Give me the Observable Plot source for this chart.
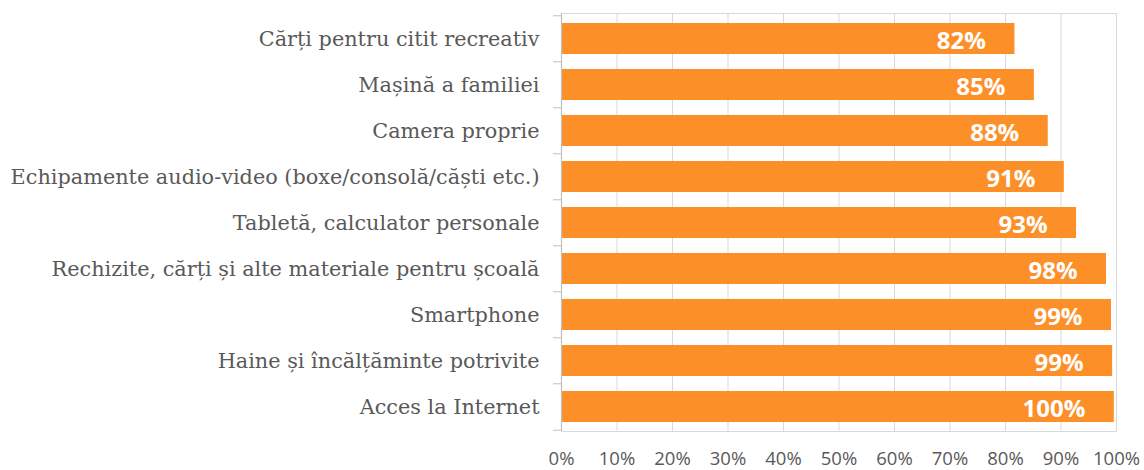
<!DOCTYPE html>
<html>
<head>
<meta charset="utf-8">
<script src="https://cdn.jsdelivr.net/npm/d3@7"></script>
<script src="https://cdn.jsdelivr.net/npm/@observablehq/plot@0.6"></script>
<style>
  html, body { margin: 0; padding: 0; background: #fff; }
  #chart svg { display: block; }
</style>
</head>
<body>
<div id="chart"></div>
<script>
const categories = [
  "Cărți pentru citit recreativ",
  "Mașină a familiei",
  "Camera proprie",
  "Echipamente audio-video (boxe/consolă/căști etc.)",
  "Tabletă, calculator personale",
  "Rechizite, cărți și alte materiale pentru școală",
  "Smartphone",
  "Haine și încălțăminte potrivite",
  "Acces la Internet"
];
const values = [0.817, 0.852, 0.877, 0.906, 0.928, 0.982, 0.991, 0.993, 0.996];
const valueLabels = ["82%", "85%", "88%", "91%", "93%", "98%", "99%", "99%", "100%"];
const xTicks = [0, 0.1, 0.2, 0.3, 0.4, 0.5, 0.6, 0.7, 0.8, 0.9, 1];

const data = categories.map((c, i) => ({category: c, value: values[i], label: valueLabels[i]}));

const W = 1144, H = 470;
const mTop = 13, mBottom = 39, mLeft = 561, mRight = 28;
const step = (H - mTop - mBottom) / categories.length;
const gray = "#595959";
const gridColor = "#D9D9D9";

const chart = Plot.plot({
  width: W,
  height: H,
  marginTop: mTop,
  marginBottom: mBottom,
  marginLeft: mLeft,
  marginRight: mRight,
  style: {background: "#fff"},
  x: {domain: [0, 1], label: null},
  y: {domain: categories, label: null, paddingOuter: 0.165, paddingInner: 0.33},
  marks: [
    Plot.gridX(xTicks, {stroke: gridColor, strokeOpacity: 1, strokeWidth: 1}),
    Plot.frame({stroke: gridColor, strokeWidth: 1}),
    Plot.barX(data, {x: "value", y: "category", fill: "#FD8F28"}),
    Plot.ruleX([0], {stroke: "#BFBFBF", strokeWidth: 1.2}),
    Plot.ruleY(categories, {y: d => d, x1: 0, x2: 0, insetLeft: -8, dy: -step / 2, stroke: "#BFBFBF"}),
    Plot.ruleY(categories.slice(-1), {y: d => d, x1: 0, x2: 0, insetLeft: -8, dy: step / 2, stroke: "#BFBFBF"}),
    Plot.text(data, {
      x: "value", y: "category", text: "label",
      textAnchor: "end", dx: -29, dy: 2,
      fill: "#fff", fontWeight: "bold", fontSize: 24,
      fontFamily: "'Open Sans', sans-serif"
    }),
    Plot.axisX({
      ticks: xTicks, tickFormat: d3.format(".0%"), tickSize: 0, tickPadding: 20,
      fontSize: 18.5, fill: gray, fontFamily: "'Open Sans', sans-serif", label: null
    }),
    Plot.axisY({
      tickSize: 0, tickPadding: 22, fontSize: 20.8, fill: gray,
      fontFamily: "'DejaVu Serif', serif", label: null
    })
  ]
});
document.getElementById("chart").appendChild(chart);
</script>
</body>
</html>
